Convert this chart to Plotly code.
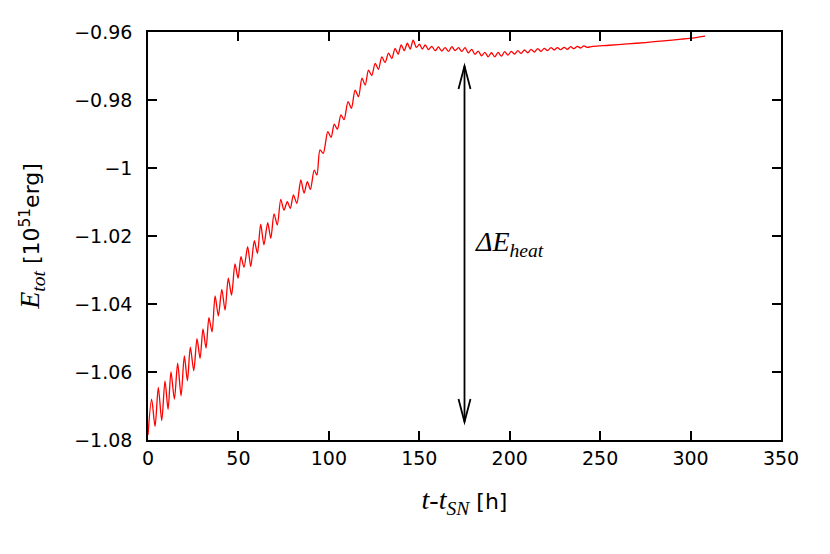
import plotly.graph_objects as go

# time since SN [h] and total energy [1e51 erg] (peaks / troughs of the wiggle)
t_early = [0, 2.0, 3.9, 5.7, 7.6, 9.4, 11.1, 12.7, 14.6, 16.4, 18.3, 20.1, 21.8, 23.4, 25.3,
           27.1, 28.8, 30.4, 32.1, 33.7, 35.4, 37.1, 38.9, 40.8, 42.6, 44.4, 46.2, 48.1, 49.8,
           51.4, 53.1, 55.1, 56.8, 58.8, 60.5, 62.3, 64.1, 66.2, 67.9, 69.7, 71.5, 73.4, 75.2,
           77.0, 78.7, 80.4, 82.3, 84.5, 86.3, 88.1, 89.8, 91.9, 93.4]
e_early = [-1.0785, -1.0680, -1.0760, -1.0645, -1.0743, -1.0626, -1.0710, -1.0600, -1.0680,
           -1.0574, -1.0670, -1.0553, -1.0626, -1.0527, -1.0596, -1.0502, -1.0560, -1.0473,
           -1.0530, -1.0440, -1.0482, -1.0376, -1.0435, -1.0357, -1.0418, -1.0324, -1.0374,
           -1.0282, -1.0324, -1.0261, -1.0292, -1.0231, -1.0290, -1.0214, -1.0251, -1.0165,
           -1.0226, -1.0161, -1.0207, -1.0135, -1.0168, -1.0092, -1.0124, -1.0099, -1.0119,
           -1.0079, -1.0104, -1.0035, -1.0074, -1.0040, -1.0063, -1.0006, -1.0021]

t_mid = [95.1, 96.9, 99.4, 101.2, 103.0, 104.7, 106.7, 108.4, 110.6, 112.5, 114.5, 116.4,
         118.3, 120.1, 121.9, 123.7, 125.6, 127.4, 129.3, 131.1, 133.0, 134.8, 136.6, 138.3,
         140.0, 141.7, 143.4, 145.0, 146.6, 148.4, 150.1, 151.7, 153.3, 155.1, 156.9, 158.8,
         160.6, 162.4, 164.3, 166.2, 168.0, 169.8, 171.7, 173.5]
e_mid = [-0.9947, -0.9957, -0.9893, -0.9910, -0.9871, -0.9886, -0.9844, -0.9858, -0.9805,
         -0.9824, -0.9771, -0.9790, -0.9736, -0.9756, -0.9712, -0.9728, -0.9692, -0.9710,
         -0.9673, -0.9690, -0.9662, -0.9678, -0.9648, -0.9665, -0.9638, -0.9655, -0.9633,
         -0.9650, -0.9624, -0.9645, -0.9636, -0.9650, -0.9638, -0.9652, -0.9642, -0.9655,
         -0.9644, -0.9656, -0.9646, -0.9657, -0.9643, -0.9655, -0.9646, -0.9657]

t_late = [175.3, 177.1, 179.0, 180.8, 182.6, 184.4, 186.3, 188.1, 189.9, 191.7, 193.6, 195.4,
          197.2, 199.0, 200.9, 202.7, 204.5, 206.3, 208.2, 210.0, 211.8, 213.6, 215.5, 217.3,
          219.1, 220.9, 222.8, 224.6, 226.4, 228.2, 230.1, 231.9, 233.7, 235.5, 237.4, 239.2,
          241.0, 242.8, 246, 255, 265, 275, 285, 295, 302, 308]
e_late = [-0.9646, -0.9661, -0.9651, -0.9666, -0.9656, -0.9670, -0.9660, -0.9673, -0.9661,
          -0.9673, -0.9660, -0.9671, -0.9658, -0.9668, -0.9657, -0.9665, -0.9655, -0.9663,
          -0.9653, -0.9661, -0.9651, -0.9659, -0.9649, -0.9657, -0.9648, -0.9655, -0.9646,
          -0.9653, -0.9646, -0.9652, -0.9645, -0.9651, -0.9643, -0.9649, -0.9642, -0.9647,
          -0.9641, -0.9645, -0.9642, -0.9639, -0.9635, -0.9631, -0.9626, -0.9621, -0.9617,
          -0.9612]

x_ticks = [0, 50, 100, 150, 200, 250, 300, 350]
y_ticks = [-1.08, -1.06, -1.04, -1.02, -1.0, -0.98, -0.96]

# double arrow marking the heating energy
arrow_t = 175
arrow_top = -0.970
arrow_bottom = -1.0747

t = t_early + t_mid + t_late
e = e_early + e_mid + e_late

sans = "DejaVu Sans, Arial, sans-serif"
serif = "Liberation Serif, Times New Roman, serif"

fig = go.Figure()
fig.add_trace(go.Scatter(x=t, y=e, mode='lines', line=dict(color='red', width=1.3, shape='spline', smoothing=0.8),
                         showlegend=False))

# arrow shaft + open heads
fig.add_shape(type='line', x0=arrow_t, x1=arrow_t, y0=arrow_top, y1=arrow_bottom, line=dict(color='black', width=1.8))
fig.add_shape(type='path', xsizemode='pixel', ysizemode='pixel', xanchor=arrow_t, yanchor=arrow_top,
              path='M -6,-23 L 0,0 L 6,-23', line=dict(color='black', width=1.8))
fig.add_shape(type='path', xsizemode='pixel', ysizemode='pixel', xanchor=arrow_t, yanchor=arrow_bottom,
              path='M -6,23 L 0,0 L 6,23', line=dict(color='black', width=1.8))

fig.add_annotation(x=179.5, y=-1.0222, xanchor='left', yanchor='middle', showarrow=False,
                   text='<i>ΔE<sub>heat</sub></i>', font=dict(family=serif, size=28, color='black'))

axis_style = dict(showline=True, linecolor='black', linewidth=1.6, mirror='ticks', ticks='inside',
                  ticklen=9, tickwidth=1.6, tickcolor='black', showgrid=False, zeroline=False,
                  tickfont=dict(family=sans, size=19, color='black'))

fig.update_xaxes(range=[0, 350], tickvals=x_ticks, **axis_style,
                 title=dict(text="<i>t</i>-<i>t<sub>SN</sub></i><span style='font-family:DejaVu Sans;font-size:22px'> [h]</span>",
                            font=dict(family=serif, size=28, color='black'), standoff=22))
fig.update_yaxes(range=[-1.08, -0.96], tickvals=y_ticks, ticklabelstandoff=10, **axis_style,
                 title=dict(text="<i>E<sub>tot</sub></i><span style='font-family:DejaVu Sans;font-size:22px'> [10<sup>51</sup>erg]</span>",
                            font=dict(family=serif, size=28, color='black'), standoff=26))

fig.update_layout(width=822, height=546, margin=dict(l=140, r=49, t=24, b=114),
                  paper_bgcolor='white', plot_bgcolor='white')

fig.write_html("out.html")
